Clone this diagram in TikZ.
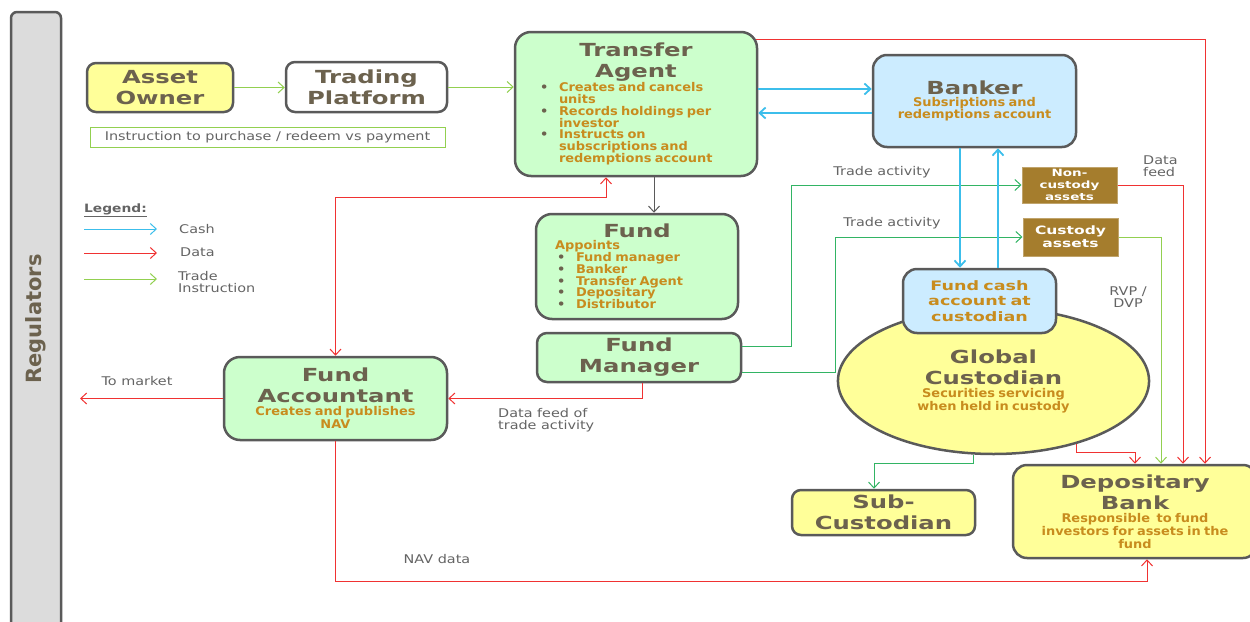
\documentclass[tikz,border=0pt]{standalone}
\usepackage{fontspec}
\setmainfont{DejaVu Sans}
\newfontfamily\titlefont[FakeStretch=1.35]{DejaVu Sans}
\newfontfamily\notefont[FakeStretch=1.08]{DejaVu Sans}
\newfontfamily\labelfont[FakeStretch=1.2]{DejaVu Sans}
\usetikzlibrary{arrows.meta}
\usetikzlibrary{calc}
\usetikzlibrary{shapes.geometric}

\definecolor{boxline}{RGB}{90,90,90}
\definecolor{titlegray}{RGB}{108,98,78}
\definecolor{noteorange}{RGB}{200,140,30}
\definecolor{labelgray}{RGB}{100,100,100}
\definecolor{yellowfill}{RGB}{255,255,153}
\definecolor{greenfill}{RGB}{204,255,204}
\definecolor{bluefill}{RGB}{204,236,255}
\definecolor{brownfill}{RGB}{165,125,45}
\definecolor{cashblue}{RGB}{60,190,235}
\definecolor{datared}{RGB}{240,50,50}
\definecolor{tradegreen}{RGB}{146,208,80}
\definecolor{activitygreen}{RGB}{50,180,100}
\definecolor{regfill}{RGB}{220,220,220}

\newcommand{\ttl}{\titlefont\bfseries\fontsize{18}{21}\selectfont}
\newcommand{\nte}{\notefont\bfseries\fontsize{12}{11.8}\selectfont\color{noteorange}}
\newcommand{\ntl}{\notefont\bfseries\fontsize{12}{13}\selectfont\color{noteorange}}
\newcommand{\bul}{\makebox[19pt][l]{\textcolor{titlegray}{\textbullet}}}

\tikzstyle{box}=[draw=boxline, line width=2.5pt, rounded corners=9pt, inner sep=0pt, align=center, text=titlegray]
\tikzstyle{yellow box}=[box, fill=yellowfill]
\tikzstyle{green box}=[box, fill=greenfill, rounded corners=16pt]
\tikzstyle{blue box}=[box, fill=bluefill, rounded corners=14pt]
\tikzstyle{asset box}=[fill=brownfill, draw=brownfill!70!white, line width=1pt, inner sep=0pt, align=center, text=white]
\tikzstyle{side note}=[inner sep=0pt, text=labelgray, font=\labelfont\fontsize{12}{12}\selectfont]
\tikzstyle{cash flow}=[draw=cashblue, line width=1.8pt, ->]
\tikzstyle{data flow}=[draw=datared, line width=1pt, ->]
\tikzstyle{trade flow}=[draw=tradegreen, line width=1pt, ->]
\tikzstyle{activity flow}=[draw=activitygreen, line width=1pt, ->]
\tikzstyle{plain flow}=[draw=boxline, line width=1pt, ->]

\begin{document}
\begin{tikzpicture}[x=1pt, y=-1pt, >={Straight Barb[length=6pt,width=11pt]}]
  \useasboundingbox (0, 0) rectangle (1250, 621);

  \node[box, fill=regfill, minimum width=50pt, minimum height=640pt, rounded corners=6pt] (reg) at (36, 332) {};
  \node[rotate=90, text=titlegray, font=\bfseries\fontsize{21}{21}\selectfont] (reg_text) at (36, 319) {Regulators};

  \node[yellow box, minimum width=146pt, minimum height=49pt, text width=140pt, font=\ttl] (owner) at (160, 87.5) {Asset\\Owner};
  \node[box, fill=white, minimum width=161pt, minimum height=50pt, text width=155pt, font=\ttl] (platform) at (366.5, 87) {Trading\\Platform};
  \node[draw=tradegreen, line width=1pt, minimum width=355pt, minimum height=20pt, inner sep=0pt, text=labelgray, font=\labelfont\fontsize{12}{12}\selectfont] (instruction) at (267.5, 137) {Instruction to purchase / redeem vs payment};

  \node[green box, minimum width=242pt, minimum height=144pt, text width=192pt] (agent) at (636, 104)
    {{\ttl Transfer\\Agent\par}{\nte\raggedright\bul Creates and cancels\\\hspace*{19pt}units\\\bul Records holdings per\\\hspace*{19pt}investor\\\bul Instructs on\\\hspace*{19pt}subscriptions and\\\hspace*{19pt}redemptions account\par}};
  \node[blue box, minimum width=203pt, minimum height=92pt, text width=195pt] (banker) at (974.5, 101)
    {{\ttl Banker\par}{\nte Subsriptions and\\redemptions account\par}};
  \node[green box, minimum width=202pt, minimum height=105pt, text width=164pt] (fund) at (637, 266.5)
    {{\ttl Fund\par}{\nte\raggedright Appoints\\\hspace*{2pt}\bul Fund manager\\\hspace*{2pt}\bul Banker\\\hspace*{2pt}\bul Transfer Agent\\\hspace*{2pt}\bul Depositary\\\hspace*{2pt}\bul Distributor\par}};
  \node[green box, minimum width=204pt, minimum height=49pt, text width=198pt, rounded corners=10pt, font=\ttl] (manager) at (639, 357.5) {Fund\\Manager};
  \node[green box, minimum width=223pt, minimum height=83pt, text width=215pt] (accountant) at (335.5, 398.5)
    {{\ttl Fund\\Accountant\par}{\ntl Creates and publishes\\NAV\par}};

  \node[asset box, minimum width=95pt, minimum height=36pt, text width=93pt, font=\titlefont\bfseries\fontsize{10}{12}\selectfont] (noncustody) at (1069.5, 185) {Non-\\custody\\assets};
  \node[asset box, minimum width=95pt, minimum height=38pt, text width=93pt, font=\titlefont\bfseries\fontsize{11.5}{13}\selectfont] (custody) at (1070.5, 237) {Custody\\assets};

  \node[ellipse, draw=boxline, line width=2.5pt, fill=yellowfill, minimum width=303pt, minimum height=146pt, inner sep=0pt, text width=220pt, align=center, text=titlegray] (custodian) at (993.5, 381)
    {{\ttl Global\\Custodian\par}{\ntl Securities servicing\\when held in custody\par}};
  \node[blue box, minimum width=153pt, minimum height=64pt, text width=150pt, text=noteorange, font=\titlefont\bfseries\fontsize{13}{15.5}\selectfont] (cash) at (979.5, 301) {Fund cash\\account at\\custodian};
  \node[yellow box, minimum width=183pt, minimum height=45pt, text width=175pt, font=\ttl] (subcustodian) at (883.5, 512.5) {Sub-\\Custodian};
  \node[yellow box, minimum width=244pt, minimum height=93pt, text width=236pt, rounded corners=14pt] (depositary) at (1135, 511.5)
    {{\ttl Depositary\\Bank\par}{\ntl Responsible\ \ to fund\\investors for assets in the\\fund\par}};

  \node[side note] (market_note) at (137, 381) {To market};
  \node[side note, align=left, anchor=west] (feed_note) at (498, 420) {Data feed of\\trade activity};
  \node[side note] (nav_note) at (437, 559) {NAV data};
  \node[side note] (activity_note) at (882, 172) {Trade activity};
  \node[side note] (custody_note) at (892, 223) {Trade activity};
  \node[side note, align=left, anchor=west] (datafeed_note) at (1143, 166) {Data\\feed};
  \node[side note, align=center] (rvp_note) at (1128, 297) {RVP /\\DVP};

  \node[side note, anchor=west, font=\labelfont\bfseries\fontsize{11.5}{12}\selectfont] (legend) at (84, 210) {\underline{Legend:}};
  \coordinate (cash_key_a) at (84, 229);
  \coordinate (cash_key_b) at (157, 229);
  \coordinate (data_key_a) at (84, 253);
  \coordinate (data_key_b) at (157, 253);
  \coordinate (trade_key_a) at (84, 279);
  \coordinate (trade_key_b) at (157, 279);
  \node[side note, anchor=west] (cash_key) at (179, 229) {Cash};
  \node[side note, anchor=west] (data_key) at (180, 252) {Data};
  \node[side note, anchor=west, align=left] (trade_key) at (178, 282) {Trade\\Instruction};
  \draw[cash flow, line width=1pt] (cash_key_a) -- (cash_key_b);
  \draw[data flow] (data_key_a) -- (data_key_b);
  \draw[trade flow] (trade_key_a) -- (trade_key_b);

  \coordinate (market) at (80, 398.5);

  \draw[trade flow] (owner.east) -- (owner.east -| platform.west);
  \draw[trade flow] (platform.east) -- (platform.east -| agent.west);
  \draw[cash flow] ([yshift=12pt]banker.west -| agent.east) -- ([yshift=12pt]banker.west);
  \draw[cash flow] ([yshift=-12pt]banker.west) -- ([yshift=-12pt]banker.west -| agent.east);
  \draw[plain flow] ([xshift=18pt]agent.south) -- ([xshift=18pt]agent.south |- fund.north);
  \draw[data flow, <->] (accountant.north) |- ($(agent.south)+(-30,20)$) -- ([xshift=-30pt]agent.south);
  \draw[data flow] ([xshift=3pt]manager.south) |- (accountant.east);
  \draw[data flow] (accountant.west) -- (market);
  \draw[data flow] (accountant.south) |- ($(depositary.south)+(12,22)$) -- ([xshift=12pt]depositary.south);
  \draw[activity flow] ([yshift=11.5pt]manager.east) -| ($(noncustody.west)+(-230,0)$) -- (noncustody.west);
  \draw[activity flow] ([yshift=-14.5pt]manager.east) -| ($(custody.west)+(-187,0)$) -- (custody.west);
  \draw[cash flow] ([xshift=-19.5pt]cash.north |- banker.south) -- ([xshift=-19.5pt]cash.north);
  \draw[cash flow] ([xshift=18.5pt]cash.north) -- ([xshift=18.5pt]cash.north |- banker.south);
  \draw[data flow] (noncustody.east) -| ([xshift=48pt]depositary.north);
  \draw[trade flow] (custody.east) -| ([xshift=26pt]depositary.north);
  \draw[data flow] ($(agent.north east)+(-2,9)$) -| ([xshift=70pt]depositary.north);
  \draw[data flow] (custodian.-37) |- ($(depositary.north)+(0,-11)$) -- (depositary.north);
  \draw[activity flow] (custodian.-105) |- ($(subcustodian.north)+(-9.5,-25)$) -- ([xshift=-9.5pt]subcustodian.north);
\end{tikzpicture}
\end{document}
